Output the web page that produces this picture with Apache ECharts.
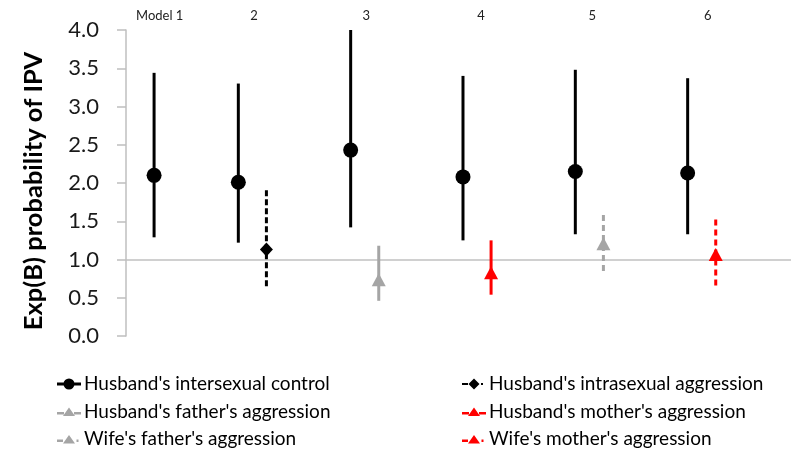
<!DOCTYPE html>
<html>
<head>
<meta charset="utf-8">
<script src="https://cdn.jsdelivr.net/npm/echarts@6/dist/echarts.min.js"></script>
<style>
html,body{margin:0;padding:0;background:#fff;}
#chart{width:791px;height:456px;}
</style>
</head>
<body>
<div id="chart"></div>
<script>
// ---- Data ----
const modelLabels = ['Model 1', '2', '3', '4', '5', '6'];
const modelLabelX = [0.3, 1.14, 2.14, 3.16, 4.15, 5.18];
const yTicks = [0, 0.5, 1, 1.5, 2, 2.5, 3, 3.5, 4];
const refLine = 1;

// Husband's intersexual control (models 1-6)
const controlX  = [0.25, 1, 2, 3, 4, 5];
const controlOR = [2.10, 2.01, 2.43, 2.08, 2.15, 2.13];
const controlLo = [1.29, 1.22, 1.42, 1.25, 1.33, 1.33];
const controlHi = [3.44, 3.30, 4.00, 3.40, 3.48, 3.37];

// Husband's intrasexual aggression (model 2)
const intraX  = [1.25];
const intraOR = [1.13];
const intraLo = [0.65];
const intraHi = [1.92];

// Husband's father's aggression (model 3)
const hFatherX  = [2.25];
const hFatherOR = [0.73];
const hFatherLo = [0.46];
const hFatherHi = [1.18];

// Husband's mother's aggression (model 4)
const hMotherX  = [3.25];
const hMotherOR = [0.82];
const hMotherLo = [0.54];
const hMotherHi = [1.25];

// Wife's father's aggression (model 5)
const wFatherX  = [4.25];
const wFatherOR = [1.20];
const wFatherLo = [0.85];
const wFatherHi = [1.60];

// Wife's mother's aggression (model 6)
const wMotherX  = [5.25];
const wMotherOR = [1.06];
const wMotherLo = [0.66];
const wMotherHi = [1.56];

// ---- Build ----
const FONT = 'Lato';
function rows(xs, m, lo, hi) {
  return xs.map((x, i) => [x, m[i], lo[i], hi[i]]);
}
function makeSeries(name, data, color, dash, symbol) {
  return {
    type: 'custom',
    name: name,
    itemStyle: { color: color },
    data: data,
    z: 5,
    renderItem: function (params, api) {
      const x = api.value(0);
      const pm = api.coord([x, api.value(1)]);
      const pl = api.coord([x, api.value(2)]);
      const ph = api.coord([x, api.value(3)]);
      const children = [{
        type: 'line',
        shape: { x1: pl[0], y1: pl[1], x2: ph[0], y2: ph[1] },
        style: { stroke: color, lineWidth: 3, lineDash: dash ? dash : null }
      }];
      const cx = pm[0], cy = pm[1];
      if (symbol === 'circle') {
        children.push({ type: 'circle', shape: { cx: cx, cy: cy, r: 7.5 }, style: { fill: color } });
      } else if (symbol === 'diamond') {
        children.push({ type: 'polygon', shape: { points: [[cx, cy - 7], [cx + 6.5, cy], [cx, cy + 7], [cx - 6.5, cy]] }, style: { fill: color } });
      } else {
        children.push({ type: 'polygon', shape: { points: [[cx, cy - 7], [cx + 7, cy + 6], [cx - 7, cy + 6]] }, style: { fill: color } });
      }
      return { type: 'group', children: children };
    }
  };
}

// legend icons, drawn in a 24 x 12 box
const ICON_CIRCLE = 'path://M0,4.5H7V7.5H0Z M17,4.5H24V7.5H17Z M6.5,6A5.5,5.5 0 1,1 17.5,6A5.5,5.5 0 1,1 6.5,6Z';
const ICON_DIAMOND_D = 'path://M0,0H0.01V0.01H0Z M24,12H23.99V11.99H24Z M0,5H6V7H0Z M19,5H21V7H19Z M12,0.5L17.5,6L12,11.5L6.5,6Z';
const ICON_TRI = 'path://M0,0H0.01V0.01H0Z M24,12H23.99V11.99H24Z M0,6.5H7V9H0Z M17,6.5H24V9H17Z M12,2L18,10.5H6Z';
const ICON_TRI_D = 'path://M0,0H0.01V0.01H0Z M24,12H23.99V11.99H24Z M0,6.5H6V9H0Z M19.5,6.5H21.5V9H19.5Z M12,2L18,10.5H6Z';

const S1 = "Husband's intersexual control";
const S2 = "Husband's intrasexual aggression";
const S3 = "Husband's father's aggression";
const S4 = "Husband's mother's aggression";
const S5 = "Wife's father's aggression";
const S6 = "Wife's mother's aggression";

const series = [
  makeSeries(S1, rows(controlX, controlOR, controlLo, controlHi), '#000000', null, 'circle'),
  makeSeries(S2, rows(intraX, intraOR, intraLo, intraHi), '#000000', [6, 3], 'diamond'),
  makeSeries(S3, rows(hFatherX, hFatherOR, hFatherLo, hFatherHi), '#a5a5a5', null, 'triangle'),
  makeSeries(S4, rows(hMotherX, hMotherOR, hMotherLo, hMotherHi), '#ff0000', null, 'triangle'),
  makeSeries(S5, rows(wFatherX, wFatherOR, wFatherLo, wFatherHi), '#a5a5a5', [6, 4], 'triangle'),
  makeSeries(S6, rows(wMotherX, wMotherOR, wMotherLo, wMotherHi), '#ff0000', [6, 4], 'triangle')
];
series[0].markLine = {
  symbol: 'none', silent: true, z: 1,
  label: { show: false },
  lineStyle: { color: '#c0c0c0', width: 1.5, type: 'solid' },
  data: [{ yAxis: refLine }]
};

const legendCommon = {
  orient: 'vertical',
  itemWidth: 24, itemHeight: 12,
  itemGap: 7.5,
  padding: 0,
  height: 80,
  selectedMode: false,
  textStyle: { fontFamily: FONT, fontSize: 19, color: '#000', lineHeight: 20, padding: [0, 0, 0, -2] }
};

const option = {
  animation: false,
  backgroundColor: '#ffffff',
  grid: { left: 126, right: 0, top: 30, bottom: 120, containLabel: false },
  xAxis: [{
    type: 'value', min: 0, max: 5.92,
    axisLine: { show: false }, axisTick: { show: false },
    axisLabel: { show: false }, splitLine: { show: false }
  }, {
    type: 'value', min: 0, max: 5.92, position: 'top',
    axisLine: { show: false }, axisTick: { show: false }, splitLine: { show: false },
    axisLabel: {
      show: true, customValues: modelLabelX, margin: 8,
      fontFamily: FONT, fontSize: 13, color: '#222',
      formatter: function (v) { const i = modelLabelX.indexOf(v); return i >= 0 ? modelLabels[i] : ''; }
    }
  }],
  yAxis: {
    type: 'value', min: 0, max: 4, interval: 0.5,
    name: 'Exp(B) probability of IPV',
    nameLocation: 'middle', nameGap: 79,
    nameTextStyle: { fontFamily: FONT, fontSize: 25.5, fontWeight: 'bold', color: '#000', padding: [0, 16, 0, 0] },
    axisLine: { show: true, lineStyle: { color: '#bfbfbf', width: 1.5 } },
    axisTick: { show: true, length: 9, lineStyle: { color: '#bfbfbf', width: 1.5 } },
    splitLine: { show: false },
    axisLabel: {
      fontFamily: FONT, fontSize: 22, color: '#1a1a1a', margin: 27,
      formatter: function (v) { return v.toFixed(1); }
    }
  },
  legend: [
    Object.assign({}, legendCommon, {
      left: 57, top: 374,
      data: [
        { name: S1, icon: ICON_CIRCLE },
        { name: S3, icon: ICON_TRI },
        { name: S5, icon: ICON_TRI_D }
      ]
    }),
    Object.assign({}, legendCommon, {
      left: 462, top: 374,
      data: [
        { name: S2, icon: ICON_DIAMOND_D },
        { name: S4, icon: ICON_TRI },
        { name: S6, icon: ICON_TRI_D }
      ]
    })
  ],
  series: series
};

const chart = echarts.init(document.getElementById('chart'), null, { renderer: 'canvas' });
chart.setOption(option);
</script>
</body>
</html>
